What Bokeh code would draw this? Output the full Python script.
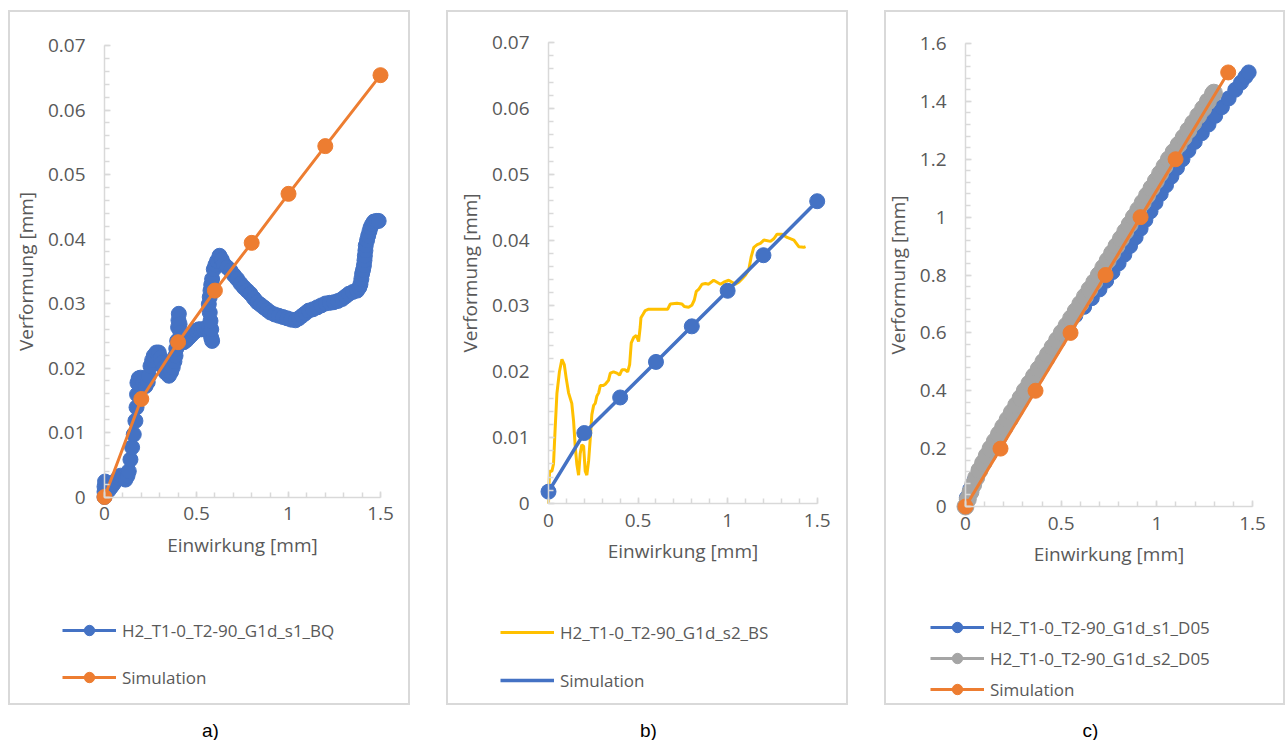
from bokeh.plotting import figure
from bokeh.models import Range1d, FixedTicker, Legend, LegendItem, Spacer
from bokeh.layouts import row, column
from bokeh.embed import file_html
from bokeh.resources import INLINE
from bokeh.core.properties import value

# ---------------- data ----------------
# panel a
a_exp_label = "H2_T1-0_T2-90_G1d_s1_BQ"
a_exp_x = [0, 0, 0, 0.003, 0.012, 0.022, 0.035, 0.048, 0.06, 0.075, 0.087, 0.1, 0.114, 0.125, 0.132,
           0.141, 0.15, 0.159, 0.168, 0.174, 0.177, 0.179, 0.186, 0.196, 0.21, 0.223, 0.235, 0.241,
           0.25, 0.259, 0.268, 0.282, 0.295, 0.305, 0.313, 0.322, 0.332, 0.35, 0.362, 0.371, 0.38,
           0.386, 0.39, 0.395, 0.4, 0.402, 0.404, 0.408, 0.413, 0.42, 0.431, 0.445, 0.458, 0.472,
           0.485, 0.499, 0.513, 0.527, 0.54, 0.555, 0.567, 0.572, 0.58, 0.585, 0.58, 0.576, 0.572,
           0.567, 0.572, 0.576, 0.58, 0.585, 0.594, 0.603, 0.612, 0.625, 0.637, 0.649, 0.667, 0.685,
           0.703, 0.721, 0.739, 0.757, 0.775, 0.793, 0.812, 0.83, 0.848, 0.866, 0.884, 0.902, 0.925,
           0.947, 0.97, 0.993, 1.015, 1.038, 1.056, 1.074, 1.092, 1.11, 1.133, 1.156, 1.178, 1.201,
           1.224, 1.246, 1.269, 1.292, 1.31, 1.328, 1.35, 1.373, 1.385, 1.391, 1.396, 1.4, 1.405,
           1.41, 1.413, 1.415, 1.418, 1.42, 1.427, 1.433, 1.44, 1.446, 1.455, 1.464, 1.478, 1.49]
a_exp_y = [0.0, 0.0008, 0.0016, 0.0024, 0.0018, 0.001, 0.0015, 0.002, 0.0025, 0.003, 0.0033, 0.003,
           0.0027, 0.0033, 0.004, 0.0058, 0.0077, 0.0097, 0.0118, 0.0139, 0.0159, 0.0177, 0.0184,
           0.0185, 0.0178, 0.0172, 0.0178, 0.0188, 0.0203, 0.0212, 0.0219, 0.0224, 0.0224, 0.0216,
           0.0208, 0.02, 0.0193, 0.0188, 0.0194, 0.0201, 0.021, 0.0219, 0.023, 0.0242, 0.0263, 0.0274,
           0.0284, 0.0268, 0.0255, 0.0246, 0.024, 0.0243, 0.0247, 0.0251, 0.0255, 0.0258, 0.026,
           0.026, 0.026, 0.0262, 0.0263, 0.0255, 0.0247, 0.0242, 0.026, 0.0273, 0.0286, 0.0299, 0.031,
           0.032, 0.0329, 0.0338, 0.0353, 0.036, 0.0366, 0.0374, 0.0368, 0.0361, 0.0356, 0.0351,
           0.0344, 0.0338, 0.0331, 0.0325, 0.032, 0.0315, 0.0308, 0.0302, 0.0298, 0.0294, 0.029,
           0.0286, 0.0283, 0.0281, 0.0279, 0.0277, 0.0275, 0.0274, 0.0277, 0.0281, 0.0285, 0.0289,
           0.0291, 0.0294, 0.0297, 0.03, 0.0301, 0.0302, 0.0304, 0.0307, 0.0311, 0.0315, 0.0318,
           0.032, 0.0325, 0.033, 0.0338, 0.0346, 0.0352, 0.0359, 0.0367, 0.0374, 0.0382, 0.039,
           0.0398, 0.0405, 0.0412, 0.0418, 0.0423, 0.0427, 0.0428, 0.0428]
a_sim_x = [0, 0.2, 0.4, 0.6, 0.8, 1.0, 1.2, 1.5]
a_sim_y = [0, 0.0152, 0.024, 0.032, 0.0394, 0.047, 0.0544, 0.0654]

# panel b
b_exp_label = "H2_T1-0_T2-90_G1d_s2_BS"
b_exp_x = [0, 0.003, 0.006, 0.019, 0.028, 0.037, 0.047, 0.061, 0.075, 0.088, 0.099, 0.112, 0.13,
           0.14, 0.149, 0.158, 0.168, 0.177, 0.186, 0.196, 0.205, 0.214, 0.224, 0.233, 0.242, 0.252,
           0.261, 0.27, 0.28, 0.289, 0.304, 0.317, 0.326, 0.335, 0.345, 0.363, 0.382, 0.397, 0.41,
           0.428, 0.442, 0.453, 0.462, 0.475, 0.49, 0.503, 0.512, 0.516, 0.527, 0.54, 0.559, 0.587,
           0.624, 0.665, 0.68, 0.717, 0.745, 0.758, 0.782, 0.8, 0.814, 0.825, 0.838, 0.857, 0.876,
           0.894, 0.922, 0.941, 0.96, 0.978, 1.006, 1.025, 1.043, 1.062, 1.08, 1.1, 1.118, 1.131,
           1.146, 1.165, 1.183, 1.202, 1.239, 1.258, 1.276, 1.304, 1.332, 1.37, 1.397, 1.425, 1.435]
b_exp_y = [0, 0.003, 0.0049, 0.0049, 0.006, 0.0113, 0.0167, 0.02, 0.0219, 0.0211, 0.019, 0.0168,
           0.0152, 0.0125, 0.0087, 0.006, 0.0043, 0.0076, 0.0089, 0.0087, 0.0049, 0.0043, 0.0065,
           0.0098, 0.0135, 0.0149, 0.0152, 0.0163, 0.0168, 0.0179, 0.0179, 0.0181, 0.0184, 0.0187,
           0.0198, 0.02, 0.0198, 0.0195, 0.0203, 0.0203, 0.02, 0.0211, 0.0244, 0.0252, 0.0255, 0.0246,
           0.0268, 0.0282, 0.0287, 0.0293, 0.0295, 0.0295, 0.0295, 0.0295, 0.0303, 0.0304, 0.0303,
           0.0299, 0.0298, 0.0301, 0.0309, 0.0322, 0.0325, 0.0333, 0.0334, 0.0333, 0.0339, 0.0336,
           0.0333, 0.0336, 0.0339, 0.0336, 0.0333, 0.0336, 0.0341, 0.0347, 0.0355, 0.0374, 0.0389,
           0.0393, 0.0395, 0.04, 0.0398, 0.0402, 0.0409, 0.0409, 0.0404, 0.04, 0.039, 0.0389, 0.039]
b_sim_x = [0, 0.2, 0.4, 0.6, 0.8, 1.0, 1.2, 1.5]
b_sim_y = [0.0018, 0.0107, 0.0161, 0.0215, 0.0269, 0.0323, 0.0377, 0.0459]

# panel c
c_s1_label = "H2_T1-0_T2-90_G1d_s1_D05"
c_s2_label = "H2_T1-0_T2-90_G1d_s2_D05"
c_s1_x = [0, 0.007, 0.025, 0.047, 0.07, 0.097, 0.125, 0.152, 0.18, 0.207, 0.235, 0.262, 0.289,
          0.317, 0.344, 0.372, 0.399, 0.427, 0.454, 0.482, 0.509, 0.54, 0.574, 0.62, 0.66, 0.70,
          0.735, 0.768, 0.8, 0.83, 0.86, 0.889, 0.915, 0.94, 0.967, 0.993, 1.02, 1.048, 1.076,
          1.105, 1.134, 1.165, 1.198, 1.235, 1.27, 1.305, 1.34, 1.375, 1.41, 1.44, 1.463, 1.48]
c_s1_y = [0, 0.03, 0.06, 0.09, 0.12, 0.15, 0.18, 0.21, 0.24, 0.27, 0.3, 0.33, 0.36, 0.39, 0.42,
          0.45, 0.48, 0.51, 0.54, 0.57, 0.6, 0.63, 0.66, 0.69, 0.72, 0.75, 0.78, 0.81, 0.84, 0.87,
          0.9, 0.93, 0.96, 0.99, 1.02, 1.05, 1.08, 1.11, 1.14, 1.17, 1.2, 1.23, 1.26, 1.29, 1.32,
          1.35, 1.38, 1.41, 1.44, 1.465, 1.485, 1.5]
c_s2_x = [0, 0.012, 0.026, 0.04, 0.056, 0.073, 0.092, 0.111, 0.131, 0.153, 0.175, 0.197, 0.22,
          0.242, 0.265, 0.288, 0.31, 0.334, 0.358, 0.383, 0.407, 0.431, 0.455, 0.479, 0.503, 0.528,
          0.552, 0.576, 0.6, 0.624, 0.648, 0.673, 0.697, 0.72, 0.743, 0.766, 0.789, 0.812, 0.835,
          0.858, 0.88, 0.903, 0.926, 0.949, 0.972, 0.995, 1.017, 1.04, 1.063, 1.088, 1.114, 1.14,
          1.165, 1.19, 1.216, 1.242, 1.267, 1.293, 1.298]
c_s2_y = [0, 0.025, 0.05, 0.075, 0.1, 0.125, 0.15, 0.175, 0.2, 0.225, 0.25, 0.275, 0.3, 0.325,
          0.35, 0.375, 0.4, 0.425, 0.45, 0.475, 0.5, 0.525, 0.55, 0.575, 0.6, 0.625, 0.65, 0.675,
          0.7, 0.725, 0.75, 0.775, 0.8, 0.825, 0.85, 0.875, 0.9, 0.925, 0.95, 0.975, 1.0, 1.025,
          1.05, 1.075, 1.1, 1.125, 1.15, 1.175, 1.2, 1.225, 1.25, 1.275, 1.3, 1.325, 1.35, 1.375,
          1.4, 1.425, 1.43]
c_sim_x = [0, 0.183, 0.366, 0.549, 0.732, 0.915, 1.098, 1.373]
c_sim_y = [0, 0.2, 0.4, 0.6, 0.8, 1.0, 1.2, 1.5]

sim_label = "Simulation"
x_title = "Einwirkung [mm]"
y_title = "Verformung [mm]"

x_ticks = [0, 0.5, 1, 1.5]
x_tick_labels = ["0", "0.5", "1", "1.5"]
ab_y_ticks = [0, 0.01, 0.02, 0.03, 0.04, 0.05, 0.06, 0.07]
ab_y_tick_labels = ["0", "0.01", "0.02", "0.03", "0.04", "0.05", "0.06", "0.07"]
c_y_ticks = [0, 0.2, 0.4, 0.6, 0.8, 1, 1.2, 1.4, 1.6]
c_y_tick_labels = ["0", "0.2", "0.4", "0.6", "0.8", "1", "1.2", "1.4", "1.6"]

captions = ["a)", "b)", "c)"]

# ---------------- style ----------------
BLUE = "#4472c4"
ORANGE = "#ed7d31"
GRAY = "#a5a5a5"
YELLOW = "#ffc000"
AXIS = "#d9d9d9"
TXT = "#595959"
FONT = "Open Sans"
PANEL_H = 695


def make_panel(width, x0px, x15px, y0px, ytop_px, ytop_val, yticks, ylabels, yminor_step):
    sx = (x15px - x0px) / 1.5
    sy = (y0px - ytop_px) / ytop_val
    p = figure(width=width, height=PANEL_H, output_backend="svg", toolbar_location=None,
               x_range=Range1d(-x0px / sx, (width - x0px) / sx),
               y_range=Range1d(-(PANEL_H - y0px) / sy, y0px / sy))
    p.min_border_left = p.min_border_right = p.min_border_top = p.min_border_bottom = 0
    p.grid.visible = False
    p.outline_line_color = AXIS
    p.outline_line_width = 3
    p.background_fill_color = "white"
    p.border_fill_color = "white"

    xa = p.xaxis[0]
    ya = p.yaxis[0]
    xa.fixed_location = 0
    ya.fixed_location = 0
    xa.bounds = (0, 1.5)
    ya.bounds = (0, ytop_val)
    xa.ticker = FixedTicker(ticks=x_ticks, minor_ticks=[round(i * 0.1, 4) for i in range(16)])
    nmin = int(round(ytop_val / yminor_step))
    ya.ticker = FixedTicker(ticks=yticks, minor_ticks=[round(i * yminor_step, 6) for i in range(nmin + 1)])
    xa.major_label_overrides = dict(zip(x_ticks, x_tick_labels))
    ya.major_label_overrides = dict(zip(yticks, ylabels))
    for ax in (xa, ya):
        ax.axis_line_color = AXIS
        ax.axis_line_width = 1.5
        ax.major_tick_line_color = AXIS
        ax.minor_tick_line_color = AXIS
        ax.major_tick_line_width = 1.5
        ax.minor_tick_line_width = 1.5
        ax.major_tick_in = 6
        ax.major_tick_out = 0
        ax.minor_tick_in = 5
        ax.minor_tick_out = 0
        ax.major_label_text_font = FONT
        ax.major_label_text_font_size = "19px"
        ax.major_label_text_color = TXT
        ax.axis_label_text_font = FONT
        ax.axis_label_text_font_size = "19px"
        ax.axis_label_text_color = TXT
        ax.axis_label_text_font_style = "normal"
    xa.axis_label = x_title
    ya.axis_label = y_title
    xa.major_label_standoff = 10
    ya.major_label_standoff = 19
    xa.axis_label_standoff = 8
    ya.axis_label_standoff = 6
    return p


def add_legend(p, items, loc, spacing):
    leg = Legend(items=items, location=loc, orientation="vertical")
    leg.label_text_font = FONT
    leg.label_text_font_size = "17px"
    leg.label_text_color = TXT
    leg.glyph_width = 54
    leg.glyph_height = 26
    leg.label_height = 26
    leg.label_standoff = 6
    leg.spacing = spacing
    leg.padding = 0
    leg.margin = 0
    leg.border_line_alpha = 0
    leg.background_fill_alpha = 0
    p.add_layout(leg, "center")


# ---------------- panel a ----------------
pa = make_panel(402, 96, 372, 486.5, 35, 0.07, ab_y_ticks, ab_y_tick_labels, 0.002)
ra_l = pa.line(a_exp_x, a_exp_y, line_color=BLUE, line_width=3)
ra_m = pa.scatter(a_exp_x, a_exp_y, size=15, fill_color=BLUE, line_color=BLUE)
rs_l = pa.line(a_sim_x, a_sim_y, line_color=ORANGE, line_width=3)
rs_m = pa.scatter(a_sim_x, a_sim_y, size=15, fill_color=ORANGE, line_color=ORANGE)
add_legend(pa, [LegendItem(label=a_exp_label, renderers=[ra_l, ra_m]),
                LegendItem(label=sim_label, renderers=[rs_l, rs_m])], (54, 15), 21)

# ---------------- panel b ----------------
pb = make_panel(402, 102, 370.7, 493, 32, 0.07, ab_y_ticks, ab_y_tick_labels, 0.002)
rb_e = pb.line(b_exp_x, b_exp_y, line_color=YELLOW, line_width=3)
rb_l = pb.line(b_sim_x, b_sim_y, line_color=BLUE, line_width=3.5)
pb.scatter(b_sim_x, b_sim_y, size=15, fill_color=BLUE, line_color=BLUE)
add_legend(pb, [LegendItem(label=b_exp_label, renderers=[rb_e]),
                LegendItem(label=sim_label, renderers=[rb_l])], (54, 12), 22)

# ---------------- panel c ----------------
pc = make_panel(401, 81, 368, 496, 33, 1.6, c_y_ticks, c_y_tick_labels, 0.04)
rc1_l = pc.line(c_s1_x, c_s1_y, line_color=BLUE, line_width=3)
rc1_m = pc.scatter(c_s1_x, c_s1_y, size=15, fill_color=BLUE, line_color=BLUE)
rc2_l = pc.line(c_s2_x, c_s2_y, line_color=GRAY, line_width=3)
rc2_m = pc.scatter(c_s2_x, c_s2_y, size=17, fill_color=GRAY, line_color=GRAY)
rc3_l = pc.line(c_sim_x, c_sim_y, line_color=ORANGE, line_width=3)
rc3_m = pc.scatter(c_sim_x, c_sim_y, size=15, fill_color=ORANGE, line_color=ORANGE)
add_legend(pc, [LegendItem(label=c_s1_label, renderers=[rc1_l, rc1_m]),
                LegendItem(label=c_s2_label, renderers=[rc2_l, rc2_m]),
                LegendItem(label=sim_label, renderers=[rc3_l, rc3_m])], (46, 3), 5)

# ---------------- captions ----------------
CAP_W = 1285
CAP_H = 35
cap = figure(width=CAP_W, height=CAP_H, output_backend="svg", toolbar_location=None,
             x_range=Range1d(0, CAP_W), y_range=Range1d(0, CAP_H),
             x_axis_location=None, y_axis_location=None)
cap.min_border_left = cap.min_border_right = cap.min_border_top = cap.min_border_bottom = 0
cap.grid.visible = False
cap.outline_line_color = None
cap.text(x=[210, 648, 1090], y=[10, 10, 10], text=captions, text_align="center",
         text_baseline="middle", text_font=value("Liberation Sans"), text_font_size="19px",
         text_color="#000000")

panels = row(Spacer(width=8, height=PANEL_H), pa, Spacer(width=36, height=PANEL_H), pb,
             Spacer(width=36, height=PANEL_H), pc)
layout = column(Spacer(width=CAP_W, height=10), panels, cap)
open("out.html", "w").write(file_html(layout, INLINE))
